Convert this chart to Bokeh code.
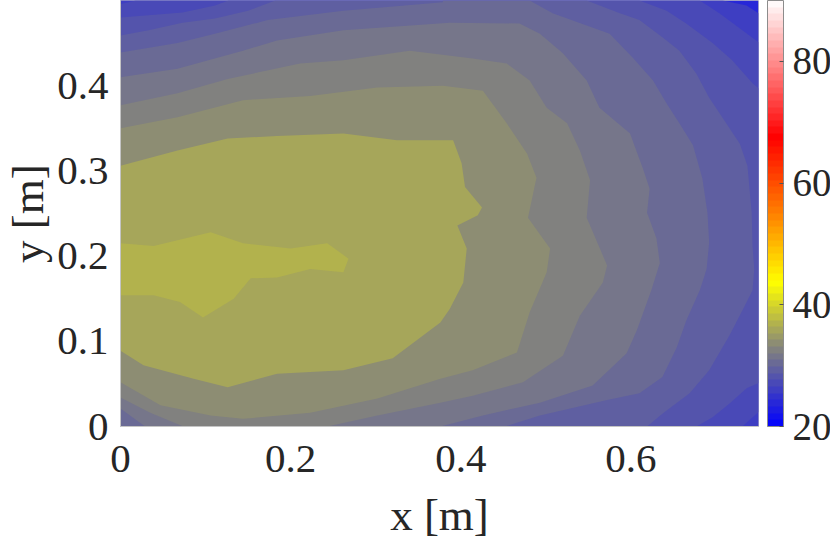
from bokeh.plotting import figure
from bokeh.models import ColumnDataSource, LinearColorMapper, ColorBar, FixedTicker
from bokeh.embed import file_html
from bokeh.resources import INLINE

# Colormap anchors
cmap_values = [20, 32.5, 43.7, 55, 67.5, 90]
cmap_colors = [(0, 0, 255), (128, 128, 128), (255, 255, 0), (255, 128, 0), (255, 0, 0), (255, 255, 255)]
cmap_steps = 64
cbar_ticks = [20, 40, 60, 80]
x_ticks = [0, 0.2, 0.4, 0.6]
y_ticks = [0, 0.1, 0.2, 0.3, 0.4]
x_max = 0.75
y_max = 0.5
v_min = 20
v_max = 90

# Temperature level of each band, coolest to hottest
band_levels = [23.8, 26.0, 27.1, 28.2, 29.3, 30.4, 31.5, 32.6, 33.7, 35.9, 36.95]

# Band outlines (x, y in metres)
band0 = [(0, 0), (0, .5), (.75, .5), (.75, 0)]
band1 = [(0, 0), (0, .5), (.708, .5), (.736, .494), (.75, .485), (.75, 0)]
band2 = [(0, 0), (0, .496), (.018, .5), (.681, .5), (.704, .485), (.731, .465), (.75, .451), (.75, .017), (.731, 0)]
band3 = [(0, 0), (0, .480), (.073, .486), (.111, .494), (.127, .5), (.610, .5), (.642, .488), (.665, .473),
         (.696, .450), (.719, .430), (.743, .403), (.75, .397), (.75, .051), (.736, .045), (.716, .027),
         (.696, .011), (.677, 0)]
band4 = [(0, 0), (0, .459), (.033, .465), (.073, .474), (.111, .479), (.150, .488), (.182, .5), (.548, .5),
         (.587, .485), (.610, .477), (.637, .457), (.657, .441), (.677, .414), (.692, .386), (.712, .356),
         (.728, .332), (.737, .306), (.742, .251), (.743, .212), (.745, .185), (.743, .160), (.734, .142),
         (.716, .107), (.692, .066), (.669, .039), (.637, .015), (.619, 0)]
band5 = [(0, 0), (0, .439), (.067, .450), (.111, .461), (.173, .477), (.262, .488), (.379, .498), (.379, .5),
         (.481, .5), (.508, .485), (.575, .461), (.602, .433), (.626, .406), (.642, .379), (.657, .356),
         (.673, .330), (.684, .291), (.690, .251), (.692, .216), (.689, .185), (.681, .160), (.665, .124),
         (.654, .093), (.637, .058), (.610, .039), (.572, .031), (.493, .013), (.452, 0)]
band6 = [(0, .021), (0, .410), (.067, .420), (.144, .441), (.184, .453), (.262, .465), (.387, .474), (.469, .473),
         (.493, .461), (.520, .438), (.548, .406), (.563, .374), (.599, .344), (.604, .330), (.614, .303),
         (.622, .279), (.619, .251), (.630, .221), (.634, .192), (.624, .160), (.607, .113), (.595, .086),
         (.555, .048), (.493, .028), (.426, .013), (.376, 0), (.029, 0)]
band7 = [(0, .034), (0, .377), (.067, .391), (.126, .408), (.211, .426), (.262, .430), (.340, .441), (.414, .432),
         (.454, .426), (.481, .406), (.501, .374), (.525, .356), (.540, .324), (.552, .289), (.548, .245),
         (.552, .236), (.572, .189), (.567, .169), (.540, .130), (.520, .083), (.473, .052), (.414, .036),
         (.376, .028), (.302, .013), (.243, 0), (.074, 0), (.035, .016)]
band8 = [(0, .052), (0, .350), (.067, .363), (.144, .383), (.223, .388), (.302, .398), (.379, .400), (.426, .394),
         (.454, .356), (.478, .320), (.489, .292), (.479, .245), (.505, .209), (.501, .181), (.481, .134),
         (.466, .087), (.414, .066), (.376, .056), (.302, .033), (.223, .016), (.144, .009), (.106, .013),
         (.047, .025)]
band9 = [(0, .089), (0, .306), (.067, .324), (.126, .338), (.184, .341), (.262, .344), (.325, .336), (.379, .336),
         (.391, .336), (.401, .309), (.405, .281), (.425, .257), (.420, .248), (.396, .236), (.407, .209),
         (.403, .169), (.387, .138), (.376, .122), (.356, .107), (.320, .080), (.262, .066), (.184, .062),
         (.126, .046), (.086, .056), (.027, .072)]
band10 = [(0, .154), (0, .215), (.039, .212), (.106, .228), (.144, .215), (.200, .209), (.243, .215), (.268, .197),
          (.262, .181), (.223, .185), (.184, .175), (.153, .174), (.133, .150), (.097, .128), (.070, .146),
          (.039, .154)]
bands = [band0, band1, band2, band3, band4, band5, band6, band7, band8, band9, band10]


def build_palette():
    out = []
    for i in range(cmap_steps):
        v = v_min + (i + 0.5) * (v_max - v_min) / cmap_steps
        for j in range(len(cmap_values) - 1):
            if cmap_values[j] <= v <= cmap_values[j + 1]:
                t = (v - cmap_values[j]) / (cmap_values[j + 1] - cmap_values[j])
                rgb = [round(a + (b - a) * t) for a, b in zip(cmap_colors[j], cmap_colors[j + 1])]
                out.append("#%02x%02x%02x" % tuple(rgb))
                break
    return out


mapper = LinearColorMapper(palette=build_palette(), low=v_min, high=v_max)
source = ColumnDataSource(dict(
    xs=[[pt[0] for pt in b] for b in bands],
    ys=[[pt[1] for pt in b] for b in bands],
    level=band_levels,
))

FONT = "Liberation Serif"
INK = "#262626"
TICK_SIZE = "41px"
CBAR_SIZE = "39px"
LABEL_SIZE = "45px"

p = figure(width=830, height=541, frame_width=638, frame_height=426, x_range=(0, x_max), y_range=(0, y_max),
           output_backend="svg", toolbar_location=None,
           min_border_left=120, min_border_right=72, min_border_top=0, min_border_bottom=115,
           margin=(0, 0, 0, 0))
p.patches("xs", "ys", source=source, fill_color={"field": "level", "transform": mapper}, line_color=None)
p.grid.visible = False
p.outline_line_color = "#c4c4c4"
p.background_fill_color = "white"
p.border_fill_color = "white"

for ax, ticks, label in ((p.xaxis[0], x_ticks, "x [m]"), (p.yaxis[0], y_ticks, "y [m]")):
    ax.ticker = FixedTicker(ticks=ticks)
    ax.major_label_overrides = {t: ("0" if t == 0 else f"{t:g}") for t in ticks}
    ax.axis_label = label
    ax.axis_label_text_font = FONT
    ax.axis_label_text_font_size = LABEL_SIZE
    ax.axis_label_text_font_style = "normal"
    ax.axis_label_text_color = INK
    ax.major_label_text_font = FONT
    ax.major_label_text_font_size = TICK_SIZE
    ax.major_label_text_color = INK
    ax.axis_line_color = "#c4c4c4"
    ax.major_tick_line_color = None
    ax.minor_tick_line_color = None
    ax.major_tick_out = 0
    ax.major_tick_in = 0
p.xaxis[0].major_label_standoff = 19
p.yaxis[0].major_label_standoff = 12
p.xaxis[0].axis_label_standoff = 15
p.yaxis[0].axis_label_standoff = 1

cb = ColorBar(color_mapper=mapper, ticker=FixedTicker(ticks=cbar_ticks), width=16, height=426,
              margin=0, padding=0, label_standoff=9, location=(9, 0),
              major_label_text_font=FONT, major_label_text_font_size=CBAR_SIZE, major_label_text_color=INK,
              major_tick_line_color="#555555", major_tick_in=4, major_tick_out=0,
              minor_tick_line_color=None, bar_line_color="#8c8c8c", bar_line_width=1,
              border_line_color=None, background_fill_color=None)
p.add_layout(cb, "right")

open("out.html", "w").write(file_html(p, INLINE))
